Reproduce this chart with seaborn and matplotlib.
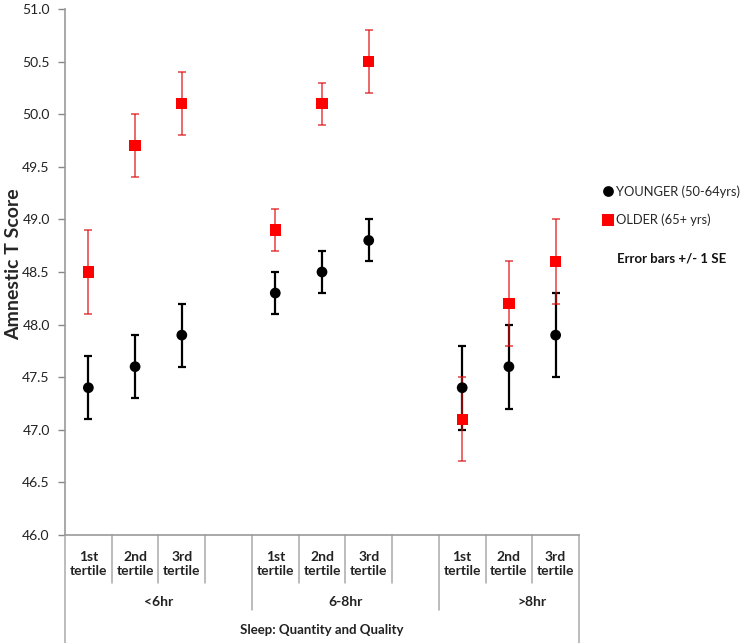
import numpy as np
import pandas as pd
import matplotlib
matplotlib.use('Agg')
import matplotlib.pyplot as plt
import seaborn as sns

# data
tertiles = ['1st\ntertile', '2nd\ntertile', '3rd\ntertile']
sleep_groups = ['<6hr', '6-8hr', '>8hr']
younger_mean = [47.4, 47.6, 47.9, 48.3, 48.5, 48.8, 47.4, 47.6, 47.9]
younger_se = [0.3, 0.3, 0.3, 0.2, 0.2, 0.2, 0.4, 0.4, 0.4]
older_mean = [48.5, 49.7, 50.1, 48.9, 50.1, 50.5, 47.1, 48.2, 48.6]
older_se = [0.4, 0.3, 0.3, 0.2, 0.2, 0.3, 0.4, 0.4, 0.4]

# category slot for each point (blank slot between sleep groups)
slots = [0, 1, 2, 4, 5, 6, 8, 9, 10]

sns.set_style('white')
plt.rcParams['font.family'] = ['Lato', 'DejaVu Sans']

df = pd.DataFrame({
    'slot': slots * 2,
    'score': younger_mean + older_mean,
    'group': ['YOUNGER (50-64yrs)'] * 9 + ['OLDER (65+ yrs)'] * 9,
})

fig = plt.figure(figsize=(7.4, 6.43), dpi=100)
ax = fig.add_axes([65 / 740, 1 - 535 / 643, (579 - 65) / 740, (535 - 9) / 643])

# error bars (+/- 1 SE)
ax.errorbar(slots, younger_mean, yerr=younger_se, fmt='none', ecolor='black',
            elinewidth=1.6, capsize=2.6, capthick=1.6, zorder=2)
ax.errorbar(slots, older_mean, yerr=older_se, fmt='none', ecolor='#e01010',
            elinewidth=1.1, capsize=2.6, capthick=1.1, alpha=0.8, zorder=3)

sns.scatterplot(data=df, x='slot', y='score', hue='group', style='group',
                palette={'YOUNGER (50-64yrs)': 'black', 'OLDER (65+ yrs)': '#ff0000'},
                markers={'YOUNGER (50-64yrs)': 'o', 'OLDER (65+ yrs)': 's'},
                size='group', sizes={'YOUNGER (50-64yrs)': 60, 'OLDER (65+ yrs)': 66},
                edgecolor='none', linewidth=0, ax=ax, zorder=4, legend=True)

ax.set_xlim(-0.5, 10.5)
ax.set_ylim(46.0, 51.0)
ax.set_yticks(np.arange(46.0, 51.01, 0.5))
ax.set_yticklabels([f'{v:.1f}' for v in np.arange(46.0, 51.01, 0.5)])
ax.set_xticks([])
ax.set_xlabel('')
ax.set_ylabel('Amnestic T Score', fontsize=14, fontweight='bold', va='center')
ax.yaxis.set_label_coords(-0.1, 0.515)
ax.tick_params(axis='y', direction='out', length=5, width=1, color='#888888',
               labelsize=10, labelcolor='#222222', pad=6, left=True)
for side in ['top', 'right']:
    ax.spines[side].set_visible(False)
for side in ['left', 'bottom']:
    ax.spines[side].set_color('#999999')
    ax.spines[side].set_linewidth(1.2)

# multi-level category axis
trans = ax.get_xaxis_transform()
line_kw = dict(color='#aaaaaa', lw=1.1, transform=trans, clip_on=False)
y_tert, y_grp, y_bottom = -0.092, -0.143, -0.21
for i in range(12):
    x = i - 0.5
    if i in (0, 11):
        ax.plot([x, x], [0, y_bottom], **line_kw)
    elif i in (4, 8):
        ax.plot([x, x], [0, y_grp], **line_kw)
    else:
        ax.plot([x, x], [0, y_tert], **line_kw)

for g, name in enumerate(sleep_groups):
    for t, lab in enumerate(tertiles):
        ax.text(g * 4 + t, -0.055, lab, transform=trans, ha='center', va='center',
                fontsize=10, fontweight='bold', color='#222222', linespacing=1.25)
    ax.text(g * 4 + 1.5, -0.127, name, transform=trans, ha='center', va='center',
            fontsize=10, fontweight='bold', color='#222222')
ax.text(5, -0.181, 'Sleep: Quantity and Quality', transform=trans, ha='center',
        va='center', fontsize=9.5, fontweight='bold', color='#222222')

# legend to the right of the plot
handles, labels = ax.get_legend_handles_labels()
ax.get_legend().remove()
fig.legend(handles, labels, loc='upper left', bbox_to_anchor=(596 / 740, 1 - 180 / 643),
           frameon=False, fontsize=9.3, handletextpad=0.15, labelspacing=1.25,
           handlelength=1.0, borderaxespad=0, markerscale=1.0)
fig.text(617 / 740, 1 - 259 / 643, 'Error bars +/- 1 SE', fontsize=9.5,
         fontweight='bold', va='center', ha='left', color='#111111')

fig.savefig('out.png', dpi=100)
